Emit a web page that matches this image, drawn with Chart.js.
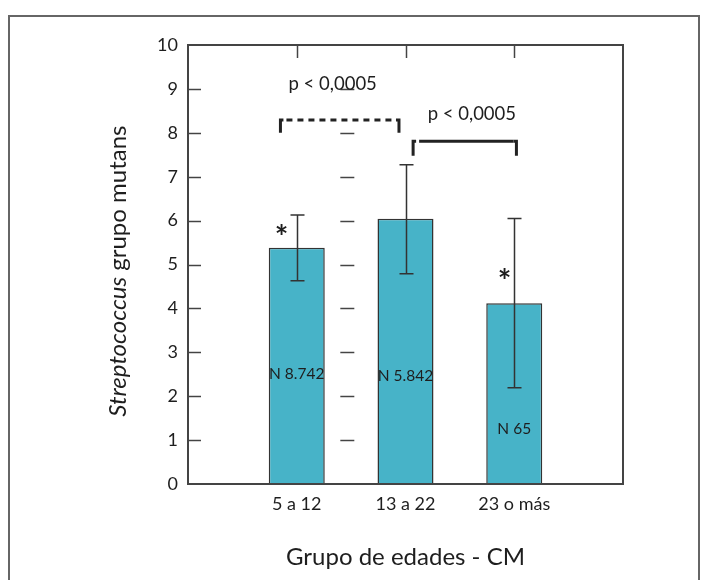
<!DOCTYPE html>
<html>
<head>
<meta charset="utf-8">
<script src="https://cdn.jsdelivr.net/npm/chart.js@4.4.1/dist/chart.umd.min.js"></script>
<style>
  html, body { margin: 0; padding: 0; background: #fff; }
  #wrap { width: 704px; height: 580px; position: relative; }
</style>
</head>
<body>
<div id="wrap"><canvas id="c" width="704" height="580"></canvas></div>
<script>
// ---- data ----
const categories = ['', '5 a 12', '13 a 22', '23 o más', ''];
const means      = [null, 5.38, 6.04, 4.12, null];
const errHigh    = [null, 6.13, 7.27, 6.05, null];
const errLow     = [null, 4.63, 4.79, 2.19, null];
const nLabels    = [null, 'N 8.742', 'N 5.842', 'N 65', null];
const nLabelY    = [null, 2.5, 2.45, 1.25, null];
const starIdx    = [1, 3];
const starX      = [0.86, 2.91];
const starY      = [5.75, 4.75];
const yTicks     = [0, 1, 2, 3, 4, 5, 6, 7, 8, 9, 10];
const midDashX   = 1.465;
const brackets = [
  { x1: 0.85, x2: 1.94, yTop: 8.29, yBot: 8.0, dashed: true,  label: 'p < 0,0005', lx: 1.33, ly: 9.1 },
  { x1: 2.07, x2: 3.02, yTop: 7.81, yBot: 7.48, dashed: false, label: 'p < 0,0005', lx: 2.61, ly: 8.43 }
];

const FONT = 'Lato, "Open Sans", sans-serif';
const TXT = '#1e1e1e';

const decor = {
  id: 'decor',
  afterDatasetsDraw(chart) {
    const ctx = chart.ctx;
    const x = chart.scales.x, y = chart.scales.y;
    const ca = chart.chartArea;
    ctx.save();
    // outer frame
    ctx.strokeStyle = '#666';
    ctx.lineWidth = 2;
    ctx.beginPath();
    ctx.moveTo(9, 590); ctx.lineTo(9, 16); ctx.lineTo(699, 16); ctx.lineTo(699, 590);
    ctx.stroke();

    // plot box
    ctx.strokeStyle = '#444';
    ctx.lineWidth = 2;
    ctx.strokeRect(ca.left, ca.top, ca.right - ca.left, ca.bottom - ca.top);

    // top ticks at categories
    ctx.lineWidth = 1.5;
    for (let i = 1; i < categories.length - 1; i++) {
      const px = Math.round(x.getPixelForValue(i)) + 0.5;
      ctx.beginPath(); ctx.moveTo(px, ca.top); ctx.lineTo(px, ca.top + 13); ctx.stroke();
    }
    // left ticks + middle dashes
    for (const v of yTicks) {
      if (v === 0 || v === 10) continue;
      const py = Math.round(y.getPixelForValue(v)) + 0.5;
      ctx.beginPath(); ctx.moveTo(ca.left, py); ctx.lineTo(ca.left + 13, py); ctx.stroke();
      const mx = x.getPixelForValue(midDashX);
      ctx.beginPath(); ctx.moveTo(mx - 7, py); ctx.lineTo(mx + 7, py); ctx.stroke();
    }

    // error bars
    ctx.strokeStyle = '#333';
    ctx.lineWidth = 1.5;
    for (let i = 0; i < means.length; i++) {
      if (means[i] == null) continue;
      const px = Math.round(x.getPixelForValue(i)) + 0.5;
      const hi = y.getPixelForValue(errHigh[i]);
      const lo = y.getPixelForValue(errLow[i]);
      ctx.beginPath();
      ctx.moveTo(px, hi); ctx.lineTo(px, lo);
      ctx.moveTo(px - 7, hi); ctx.lineTo(px + 7, hi);
      ctx.moveTo(px - 7, lo); ctx.lineTo(px + 7, lo);
      ctx.stroke();
    }

    // N labels
    ctx.fillStyle = TXT;
    ctx.font = '15.5px ' + FONT;
    ctx.textAlign = 'center';
    ctx.textBaseline = 'middle';
    for (let i = 0; i < nLabels.length; i++) {
      if (!nLabels[i]) continue;
      ctx.fillText(nLabels[i], x.getPixelForValue(i), y.getPixelForValue(nLabelY[i]));
    }

    // asterisks
    ctx.font = 'bold 32px ' + FONT;
    for (let k = 0; k < starIdx.length; k++) {
      ctx.fillText('*', x.getPixelForValue(starX[k]), y.getPixelForValue(starY[k]) + 7);
    }

    // brackets
    ctx.strokeStyle = '#222';
    ctx.lineWidth = 3;
    for (const b of brackets) {
      const x1 = x.getPixelForValue(b.x1), x2 = x.getPixelForValue(b.x2);
      const yt = y.getPixelForValue(b.yTop), yb = y.getPixelForValue(b.yBot);
      ctx.setLineDash([]);
      ctx.beginPath();
      ctx.moveTo(x1, yb); ctx.lineTo(x1, yt); ctx.lineTo(x1 + 3, yt);
      ctx.moveTo(x2 - 3, yt); ctx.lineTo(x2, yt); ctx.lineTo(x2, yb);
      ctx.stroke();
      ctx.beginPath();
      if (b.dashed) ctx.setLineDash([6, 5]);
      ctx.moveTo(x1 + 6, yt); ctx.lineTo(x2 - 3, yt);
      ctx.stroke();
      ctx.setLineDash([]);
      ctx.fillStyle = TXT;
      ctx.font = '18.5px ' + FONT;
      ctx.textAlign = 'center';
      ctx.textBaseline = 'middle';
      ctx.fillText(b.label, x.getPixelForValue(b.lx), y.getPixelForValue(b.ly));
    }

    // y axis title (mixed italic)
    ctx.save();
    ctx.translate(118, y.getPixelForValue(4.85));
    ctx.rotate(-Math.PI / 2);
    ctx.textBaseline = 'middle';
    ctx.textAlign = 'left';
    const p1 = 'Streptococcus', p2 = ' grupo mutans';
    ctx.font = 'italic 24px ' + FONT;
    const w1 = ctx.measureText(p1).width;
    ctx.font = '24px ' + FONT;
    const w2 = ctx.measureText(p2).width;
    const start = -(w1 + w2) / 2;
    ctx.font = 'italic 24px ' + FONT;
    ctx.fillText(p1, start, 0);
    ctx.font = '24px ' + FONT;
    ctx.fillText(p2, start + w1, 0);
    ctx.restore();

    ctx.restore();
  }
};

new Chart(document.getElementById('c'), {
  type: 'bar',
  data: {
    labels: categories,
    datasets: [{
      data: means,
      backgroundColor: '#47b3c8',
      borderColor: '#333',
      borderWidth: 1.5,
      categoryPercentage: 1,
      barPercentage: 0.515
    }]
  },
  options: {
    responsive: false,
    animation: false,
    layout: { padding: { left: 0, top: 45, right: 81, bottom: 0 } },
    plugins: { legend: { display: false }, tooltip: { enabled: false } },
    scales: {
      x: {
        type: 'category',
        offset: false,
        grid: { display: false, drawTicks: false },
        border: { display: false },
        ticks: { color: TXT, font: { family: FONT, size: 18 }, padding: 9, maxRotation: 0, autoSkip: false },
        title: { display: true, text: 'Grupo de edades - CM', color: TXT, font: { family: FONT, size: 24 }, padding: { top: 0, bottom: 8 } },
        afterFit(s) { s.height = 96; }
      },
      y: {
        min: 0, max: 10,
        afterBuildTicks(s) { s.ticks = yTicks.map(v => ({ value: v })); },
        grid: { display: false, drawTicks: false },
        border: { display: false },
        ticks: { color: TXT, font: { family: FONT, size: 18 }, padding: 10 },
        afterFit(s) { s.width = 188; }
      }
    }
  },
  plugins: [decor]
});
</script>
</body>
</html>
